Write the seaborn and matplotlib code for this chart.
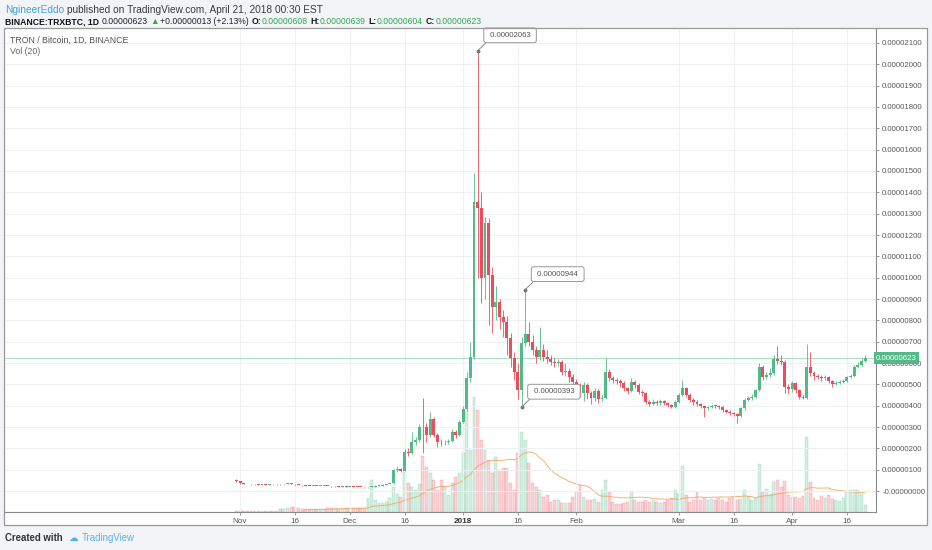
import numpy as np
import pandas as pd
import matplotlib
matplotlib.use("Agg")
import matplotlib.pyplot as plt
import matplotlib.transforms as mtransforms
from matplotlib.patches import Rectangle
from matplotlib.ticker import FixedLocator, FuncFormatter
import seaborn as sns

W, H = 932, 550

# day 0 = 1 Nov 2017 ... day 171 = 21 Apr 2018, prices in satoshi (1e-8 BTC)
days = list(range(-1, 172))

opens = [52,
         45, 37, 34, 32, 31, 31, 30, 31, 30, 31,
         31, 32, 31, 33, 37, 34, 31, 29, 27, 25,
         24, 24, 23, 23, 24, 23, 22, 22, 21, 21,
         20, 21, 20, 19, 18, 17, 18, 21, 24, 26,
         29, 32,
         36, 98, 102, 96, 184, 180, 231, 239, 301, 298,
         262, 336, 265, 231, 228, 231, 233, 278, 265, 325,
         383, 528, 630, 1356, 1325, 997, 1255, 1012, 864, 887,
         817, 794, 716, 622, 559, 473,
         692, 736, 700, 661, 627, 661, 627, 617, 606, 599,
         605, 559, 563, 536, 512, 497, 458, 497, 458, 435,
         470, 430, 435, 560, 530, 520, 515, 505, 481, 470,
         512, 497, 465, 458, 419, 408, 419, 411, 422, 411,
         403,
         395, 419, 450, 481, 450, 427, 416, 408, 398, 387,
         395, 400, 398, 392, 380, 372, 364, 361,
         352, 388, 427, 434, 442, 473,
         583, 536, 544, 552, 617, 610, 606, 489, 477, 505, 474, 442, 437,
         583, 552, 538, 535, 530, 535, 516, 502, 507, 513, 517, 533, 538, 583, 591, 608]

closes = [45,
          37, 34, 32, 31, 31, 30, 31, 30, 31, 31,
          32, 31, 33, 37, 34, 31, 29, 27, 25, 24,
          24, 23, 23, 24, 23, 22, 22, 21, 21, 20,
          21, 20, 19, 18, 17, 18, 21, 24, 26, 29,
          32, 36,
          98, 102, 96, 184, 180, 231, 239, 301, 298, 262,
          336, 265, 231, 228, 231, 233, 278, 265, 325, 383,
          528, 630, 1356, 1325, 997, 1255, 1012, 864, 887, 817,
          794, 716, 622, 559, 473, 692,
          736, 700, 661, 627, 661, 627, 617, 606, 599, 605,
          559, 563, 536, 512, 497, 458, 497, 458, 435, 470,
          430, 435, 560, 530, 520, 515, 505, 481, 470, 512,
          497, 465, 458, 419, 408, 419, 411, 422, 411, 403,
          395,
          419, 450, 481, 450, 427, 416, 408, 398, 387, 395,
          400, 398, 392, 380, 372, 364, 361, 352,
          388, 427, 434, 442, 473, 583,
          536, 544, 552, 617, 610, 606, 489, 477, 505, 474, 442, 437, 583,
          552, 538, 535, 530, 535, 516, 502, 507, 513, 517, 533, 538, 583, 591, 608, 623]

highs = [58,
         46, 38, 35, 33, 32, 32, 32, 32, 32, 32,
         33, 33, 34, 39, 38, 35, 32, 30, 28, 26,
         25, 25, 24, 25, 25, 24, 23, 23, 22, 22,
         22, 22, 21, 20, 19, 20, 24, 27, 28, 31,
         34, 39,
         105, 118, 110, 195, 200, 278, 255, 315, 436, 320,
         372, 345, 272, 245, 240, 242, 290, 285, 335, 400,
         560, 700, 1490, 2063, 1400, 1285, 1280, 1050, 960, 900,
         850, 820, 740, 650, 600, 720,
         944, 790, 730, 680, 770, 690, 660, 640, 625, 620,
         615, 600, 575, 550, 525, 505, 510, 505, 470, 485,
         480, 450, 623, 570, 540, 530, 525, 515, 490, 530,
         520, 505, 475, 465, 425, 430, 425, 430, 428, 418,
         410,
         425, 460, 520, 490, 458, 435, 425, 415, 405, 400,
         408, 405, 402, 398, 385, 378, 370, 365,
         395, 435, 445, 455, 480, 600,
         590, 560, 575, 640, 680, 640, 615, 500, 515, 512, 480, 450, 690,
         653, 565, 548, 545, 545, 540, 520, 515, 520, 525, 540, 548, 592, 605, 625, 639]

lows = [44,
        35, 33, 31, 30, 30, 29, 29, 29, 29, 30,
        30, 30, 30, 32, 33, 30, 28, 26, 24, 23,
        23, 22, 22, 22, 22, 21, 21, 20, 20, 19,
        19, 19, 18, 17, 16, 16, 17, 20, 23, 25,
        28, 31,
        34, 90, 88, 94, 165, 175, 215, 232, 178, 230,
        255, 255, 208, 210, 215, 220, 228, 250, 260, 318,
        375, 510, 620, 1000, 880, 900, 780, 740, 800, 760,
        720, 640, 580, 520, 430, 393,
        680, 680, 640, 600, 615, 610, 600, 590, 580, 585,
        545, 540, 510, 495, 470, 440, 420, 430, 410, 420,
        415, 420, 430, 515, 505, 500, 490, 470, 455, 465,
        485, 455, 445, 410, 400, 402, 405, 405, 405, 395,
        388,
        390, 412, 445, 440, 418, 405, 398, 390, 345, 380,
        388, 390, 385, 372, 365, 358, 350, 319,
        348, 380, 420, 425, 435, 468,
        520, 525, 535, 545, 595, 590, 460, 455, 465, 460, 430, 430, 430,
        540, 520, 525, 515, 520, 505, 490, 495, 500, 505, 512, 528, 535, 575, 585, 604]

# volume, relative units
volume = [1, 1, 1, 1, 1, 1, 1, 1, 1, 1, 1, 1,
          3, 3, 4, 5, 5, 4, 3, 3, 3, 3, 3, 3, 3, 4, 4, 4, 3, 3, 4, 4, 4, 4, 4, 4,
          14, 32, 12, 9, 9, 10, 14,
          25, 18, 15, 40, 29, 25, 22, 28, 56, 45, 39, 32, 22, 32, 25, 17, 29, 35, 39,
          59,
          100, 62, 115, 102, 72, 62, 52, 39, 55, 42,
          44, 44, 29, 22, 59, 80, 72, 49, 29, 25,
          22, 15, 17, 10, 12, 12, 9, 9, 9, 15,
          20, 27,
          15, 12, 12, 13, 10, 22, 32, 20, 10, 8,
          8, 9, 10, 21, 12, 10, 10, 12, 10, 12,
          10, 9, 10, 12, 14, 22, 18, 46, 17, 10,
          12, 20, 12, 14, 12, 13, 12, 14, 12, 10,
          14, 15, 12, 13, 22, 16, 12, 14, 48, 20,
          23, 18, 30, 32, 25, 31, 17, 15, 15, 14,
          16, 75, 30, 14, 12, 16, 14, 17, 13, 12,
          11, 14, 20, 22, 22, 22, 18, 7]

tick_days = [0, 15, 30, 45, 61, 76, 92, 120, 135, 151, 166]
tick_names = ["Nov", "16", "Dec", "16", "2018", "16", "Feb", "Mar", "16", "Apr", "16"]
price_ticks = list(range(0, 2200, 100))
callouts = [(65, 2063), (78, 944), (77, 393)]
last_price = 623

UP, DOWN = "#53b987", "#eb4d5c"
GRID = "#eef0f4"

sns.set_theme(style="white")
plt.rcParams["font.family"] = ["Liberation Sans", "DejaVu Sans"]

df = pd.DataFrame(dict(day=days, open=opens, high=highs, low=lows, close=closes, volume=volume))
df["up"] = df["close"] >= df["open"]
df["vol_ma"] = df["volume"].rolling(20).mean()
col = np.where(df["up"], UP, DOWN)

fig = plt.figure(figsize=(W / 100, H / 100), dpi=100)
fig.patch.set_facecolor("#f2f4f8")


def px(x, y):
    return x / W, 1 - y / H


# white chart pane, border drawn on top of everything
fig.patches.append(Rectangle(px(4, 525), 923 / W, 497 / H, transform=fig.transFigure,
                             facecolor="white", edgecolor="none", zorder=0))
fig.add_artist(Rectangle(px(4, 525), 923 / W, 497 / H, transform=fig.transFigure,
                         facecolor="none", edgecolor="#9a9a9a", lw=0.9, zorder=20))

ax = fig.add_axes([5 / W, (H - 512) / H, 871 / W, 484 / H])
ax2 = ax.twinx()
ax.set_zorder(2)
ax2.set_zorder(1)
ax.patch.set_visible(False)
ax2.patch.set_facecolor("white")

# volume pane
vol_rgba = [matplotlib.colors.to_rgba(c, 0.24) for c in col]
edge_rgba = [matplotlib.colors.to_rgba(c, 0.45) for c in col]
ax2.bar(df["day"], df["volume"], width=0.8, color=vol_rgba, edgecolor=edge_rgba, lw=0.3)
sns.lineplot(data=df, x="day", y="vol_ma", ax=ax2, color="#f6a45e", lw=0.7, alpha=0.85)
ax2.set_ylim(0, 484)
ax2.set_yticks([])
ax2.set_ylabel("")
ax2.set_xlabel("")
for s in ax2.spines.values():
    s.set_visible(False)

# candles
ax.vlines(df["day"], df["low"], df["high"], colors=col, lw=0.6, zorder=3)
body_lo = np.minimum(df["open"], df["close"])
body_h = np.maximum(np.abs(df["close"] - df["open"]), 3.5)
ax.bar(df["day"], body_h, bottom=body_lo, width=0.8, color=col, lw=0, zorder=4)

ax.axhline(last_price, color=UP, alpha=0.45, lw=0.8, zorder=2)

ax.set_xlim(-64.3, 173.96)
ax.set_ylim(-98, 2170)
ax.grid(True, color=GRID, lw=0.8)
ax.set_axisbelow(True)

ax.yaxis.set_major_locator(FixedLocator(price_ticks))
ax.yaxis.set_major_formatter(FuncFormatter(
    lambda v, p: "-0.00000000" if v == 0 else f"{v * 1e-8:.8f}"))
ax.yaxis.set_ticks_position("right")
ax.tick_params(axis="y", which="both", right=True, left=False, labelleft=False, labelright=True,
               length=2.5, width=0.6, color="#8a8a8a", labelsize=5.6, labelcolor="#5a5a5a", pad=2)
ax.set_xticks(tick_days)
ax.set_xticklabels(tick_names)
ax.tick_params(axis="x", bottom=True, length=2.5, width=0.6, color="#8a8a8a",
               labelsize=5.9, labelcolor="#5a5a5a", pad=2)
for lab in ax.get_xticklabels():
    if lab.get_text() == "2018":
        lab.set_fontweight("bold")
        lab.set_color("#333333")
ax.set_xlabel("")
ax.set_ylabel("")
for side in ["top", "left"]:
    ax.spines[side].set_visible(False)
for side in ["right", "bottom"]:
    ax.spines[side].set_color("#8a8a8a")
    ax.spines[side].set_linewidth(0.8)

# last price tag on the axis
ax.text(1.0, last_price, f"{last_price * 1e-8:.8f}",
        transform=mtransforms.blended_transform_factory(ax.transAxes, ax.transData),
        ha="left", va="center", color="white", fontsize=5.7, zorder=10, clip_on=False,
        bbox=dict(boxstyle="square,pad=0.3", fc=UP, ec="none"))

# callouts
for d, v in callouts:
    ax.plot([d], [v], "o", color="#777777", ms=1.8, zorder=6)
    ax.annotate(f" {v * 1e-8:.8f} ", xy=(d, v), xytext=(10, 12), textcoords="offset pixels",
                ha="left", va="bottom", fontsize=5.6, color="#555555", zorder=7,
                bbox=dict(boxstyle="round,pad=0.5,rounding_size=0.3", fc="white", ec="#9a9a9a", lw=0.7),
                arrowprops=dict(arrowstyle="-", color="#888888", lw=0.7, relpos=(0.05, 0),
                                shrinkA=0, shrinkB=0))

# header texts
renderer = fig.canvas.get_renderer()


def text_run(x, y, parts, size):
    for s, color, weight, gap in parts:
        t = fig.text(*px(x, y), s, color=color, fontsize=size, fontweight=weight,
                     ha="left", va="center")
        x += t.get_window_extent(renderer).width + gap


text_run(5, 10, [("NgineerEddo", "#3fa2e0", "normal", 3),
                 ("published on TradingView.com, April 21, 2018 00:30 EST", "#3a3a3a", "normal", 0)], 7.3)
G = "#2eaa4f"
text_run(5, 22, [("BINANCE:TRXBTC, 1D", "#111111", "bold", 3),
                 ("0.00000623", "#222222", "normal", 2),
                 ("\u25b2", G, "normal", 1.5),
                 ("+0.00000013 (+2.13%)", "#222222", "normal", 3),
                 ("O:", "#111111", "bold", 0), ("0.00000608", G, "normal", 3),
                 ("H:", "#111111", "bold", 0), ("0.00000639", G, "normal", 3),
                 ("L:", "#111111", "bold", 0), ("0.00000604", G, "normal", 3),
                 ("C:", "#111111", "bold", 0), ("0.00000623", G, "normal", 0)], 6.2)

fig.text(*px(10, 40), "TRON / Bitcoin, 1D, BINANCE", color="#555555", fontsize=6.3, va="center")
fig.text(*px(10, 52), "Vol (20)", color="#666666", fontsize=6.3, va="center")

text_run(5, 538, [("Created with", "#333333", "bold", 6),
                  ("\u2601", "#4fb3e8", "normal", 4),
                  ("TradingView", "#5ab4e5", "normal", 0)], 6.9)

fig.savefig("out.png", dpi=100, facecolor=fig.get_facecolor())
